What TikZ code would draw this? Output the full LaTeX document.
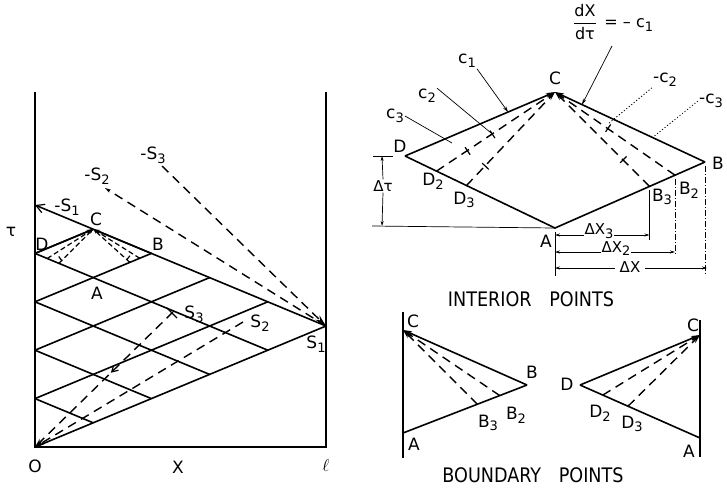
\documentclass[tikz,border=0pt]{standalone}
\usepackage{fontspec}
\setmainfont{DejaVu Sans}
\usetikzlibrary{arrows.meta,calc,decorations.markings}
\newcommand\lsub[1]{\raisebox{-0.4ex}{\fontsize{13}{14}\selectfont #1}}
\begin{document}
\begin{tikzpicture}[x=1pt,y=-1pt,
  main/.style={line width=1.6pt},
  dsh/.style={line width=1.4pt, dash pattern=on 9pt off 6pt},
  thinl/.style={line width=0.7pt},
  dotl/.style={line width=0.8pt, dash pattern=on 1.2pt off 2pt},
  dashdotl/.style={line width=0.7pt, dash pattern=on 6pt off 2pt on 1pt off 2pt},
  lbl/.style={font=\fontsize{17}{19}\selectfont, inner sep=1pt},
  dimlbl/.style={font=\fontsize{15}{17}\selectfont, inner sep=1pt, fill=white},
  title/.style={font=\fontsize{20}{22}\selectfont, inner sep=0pt, anchor=base},
  tipC/.style={-{Stealth[length=9pt,width=5pt]}},
  smalltip/.style={-{Stealth[length=6pt,width=3.5pt]}},
  dimtip/.style={{Stealth[length=5pt,width=3pt]}-{Stealth[length=5pt,width=3pt]}},
  tickl/.style={line width=1.2pt},
  midarrow/.style={postaction={decorate},decoration={markings,
     mark=at position 0.45 with {\arrow{Straight Barb[length=6pt,width=7pt,line width=1.2pt]}}}}
]
\useasboundingbox (0,0) rectangle (727,488);

% ================= LEFT DIAGRAM =================
\coordinate (LWt) at (35,92);
\coordinate (O) at (35,447);
\coordinate (RWt) at (326,92);
\coordinate (L) at (326,447);
\coordinate (S1) at (326,326);
\draw[main] (LWt) -- (O) -- (L) -- (RWt);

\foreach \i in {0,...,5} \coordinate (W\i) at (35,{205+48.4*\i});
\foreach \i in {1,...,4} {
  \coordinate (T\i) at ({35+58.2*\i},{205+24.2*\i});
  \coordinate (G\i) at ({35+58.2*(5-\i)},{447-24.2*(5-\i)});
}
\draw[main,{Straight Barb[length=8pt,width=9pt,line width=1.2pt]}-] (W0) -- (S1);
\draw[main] (O) -- (S1);
\foreach \i in {1,...,4} {
  \draw[main] (W\i) -- (T\i);
  \draw[main] (W\i) -- (G\i);
}
% small interior star at C
\coordinate (lC) at (T1);
\coordinate (lD) at (W1);
\coordinate (lA) at (93.2,277.6);
\coordinate (lB) at (T2);
\draw[main,-{Stealth[length=7pt,width=4pt]}] (lD) -- (lC);
\draw[main,-{Stealth[length=7pt,width=4pt]}] (lB) -- (lC);
\coordinate (lD2) at ($(lD)!0.21!(lA)$);
\coordinate (lD3) at ($(lD)!0.41!(lA)$);
\coordinate (lB3) at ($(lA)!0.63!(lB)$);
\coordinate (lB2) at ($(lA)!0.80!(lB)$);
\foreach \p in {lD2,lD3,lB3,lB2}
  \draw[line width=1.2pt, dash pattern=on 5pt off 3pt,-{Stealth[length=5pt,width=3pt]}] (\p) -- (lC);
\draw[tickl] ($(lD3)!4pt!(lC)$) -- ++(-3,-4);
\draw[tickl] ($(lB3)!4pt!(lC)$) -- ++(3,-4);

% characteristic directions
\coordinate (mS2) at (105,188);
\coordinate (mS3) at (162,166);
\draw[dsh,smalltip] (S1) -- (mS2);
\draw[dsh,-{Stealth[length=12pt,width=6pt]}] (mS3) -- (S1);
\coordinate (pS3) at (173,312);
\coordinate (pS2) at (243,322);
\draw[dsh,tipC,midarrow] (pS3) -- (O);
\draw[dsh,tipC] (pS2) -- (O);
\draw[tickl] ($(pS3)+(-6,-4)$) -- ($(pS3)+(4,6)$);

% labels left
\node[lbl] (ltau) at (11,232) {τ};
\node[lbl] (lO) at (35,466) {O};
\node[lbl] (lX) at (178,467) {X};
\node[lbl] (lell) at (326,465) {$\ell$};
\node[lbl] (lmS1) at (67,207) {-S\lsub{1}};
\node[lbl] (lmS2) at (97,176) {-S\lsub{2}};
\node[lbl] (lmS3) at (153,155) {-S\lsub{3}};
\node[lbl] (lCl) at (96,219) {C};
\node[lbl] (lDl) at (42,244) {D};
\node[lbl] (lBl) at (158,244) {B};
\node[lbl] (lAl) at (97,293) {A};
\node[lbl] (lS3) at (194,314) {S\lsub{3}};
\node[lbl] (lS2) at (260,323) {S\lsub{2}};
\node[lbl] (lS1) at (316,344) {S\lsub{1}};

% ================= INTERIOR POINTS =================
\coordinate (D) at (405,156);
\coordinate (C) at (555,92);
\coordinate (B) at (705,162);
\coordinate (A) at (555,228);
\coordinate (D2) at ($(D)!0.21!(A)$);
\coordinate (D3) at ($(D)!0.41!(A)$);
\coordinate (B3) at ($(A)!0.63!(B)$);
\coordinate (B2) at ($(A)!0.80!(B)$);
\draw[main] (D) -- (A) -- (B);
\draw[main,tipC] (D) -- (C);
\draw[main,tipC] (B) -- (C);
\foreach \p in {D2,D3,B3,B2} \draw[dsh,tipC] (\p) -- (C);
% ticks on dashed lines
\foreach \p/\t in {D2/0.53,D2/0.74,D3/0.79,B3/0.72,B2/0.44}
  \draw[tickl] ($(C)!\t!(\p)$) -- ($($(C)!\t!(\p)$)!5pt!90:(\p)$)
               ($($(C)!\t!(\p)$)!4pt!-90:(\p)$) -- ($($(C)!\t!(\p)$)!4pt!90:(\p)$);

\node[lbl] (Cl) at (555,78) {C};
\node[lbl] (Dl) at (400,146) {D};
\node[lbl] (Bl) at (718,163) {B};
\node[lbl] (Al) at (546,241) {A};
\node[lbl] (D2l) at (433,181) {D\lsub{2}};
\node[lbl] (D3l) at (464,200) {D\lsub{3}};
\node[lbl] (B3l) at (662,197) {B\lsub{3}};
\node[lbl] (B2l) at (689,190) {B\lsub{2}};

% leaders
\node[lbl] (c1) at (467,61) {c\lsub{1}};
\node[lbl] (c2) at (427,96) {c\lsub{2}};
\node[lbl] (c3) at (395,116) {c\lsub{3}};
\coordinate (c1e) at ($(D)!0.687!(C)$);
\coordinate (c2e) at ($(C)!0.53!(D2)$);
\coordinate (c3e) at (452,143);
\draw[thinl,smalltip] (c1.south east) -- (c1e);
\draw[thinl] (c2.north east) -- (c2e);
\draw[thinl] (c3.east) -- (c3e);

\node[lbl,anchor=west,font=\fontsize{16}{18}\selectfont] (dxdt) at (572,22) {$\displaystyle{\hbox{dX}\over\hbox{dτ}}$\, = -- c\lsub{1}};
\coordinate (c1me) at ($(C)!0.18!(B)$);
\coordinate (c1ms) at (612,46);
\draw[thinl,smalltip] (c1ms) -- (c1me);
\node[lbl] (mc2) at (665,80) {-c\lsub{2}};
\node[lbl] (mc3) at (711,101) {-c\lsub{3}};
\coordinate (mc2e) at (608,124);
\coordinate (mc3e) at ($(C)!0.65!(B)$);
\draw[dotl] (mc2.south west) -- (mc2e);
\draw[dotl] (mc3.west) -- (mc3e);

% delta tau
\coordinate (dtT) at (382,156);
\coordinate (dtB) at (382,226);
\draw[thinl] (373,156) -- (393,156);
\draw[thinl] (372,226) -- (A);
\node[dimlbl] (dtau) at (383,186) {Δτ};
\draw[thinl,-{Stealth[length=5pt,width=3pt]}] (dtau.north) -- (dtT);
\draw[thinl,-{Stealth[length=5pt,width=3pt]}] (dtau.south) -- (dtB);

% delta X dimensions
\coordinate (Ab) at (555,276);
\draw[thinl] ($(A)+(0,4)$) -- (Ab);
\draw[thinl] ($(B3)+(0,4)$) -- ($(B3|-A)+(0,12)$);
\draw[dashdotl] ($(B2)+(0,4)$) -- ($(B2|-A)+(0,28)$);
\draw[dashdotl] ($(B)+(0,4)$) -- ($(B|-A)+(0,46)$);
\coordinate (x3a) at (555,235); \coordinate (x3b) at ($(B3|-x3a)$);
\coordinate (x2a) at (555,252); \coordinate (x2b) at ($(B2|-x2a)$);
\coordinate (x1a) at (555,268); \coordinate (x1b) at ($(B|-x1a)+(2,0)$);
\draw[thinl,dimtip] (x3a) -- (x3b);
\draw[thinl,dimtip] (x2a) -- (x2b);
\draw[thinl,dimtip] (x1a) -- (x1b);
\node[dimlbl] (dX3) at (599,231) {ΔX\lsub{3}};
\node[dimlbl] (dX2) at (616,248.5) {ΔX\lsub{2}};
\node[dimlbl,inner xsep=5pt] (dX) at (630,267) {ΔX};

\node[title] (interior) at (531,306) {\scalebox{0.88}[1]{INTERIOR\quad POINTS}};

% ================= BOUNDARY POINTS =================
\coordinate (bLt) at (403,312);
\coordinate (bLb) at (403,458);
\coordinate (bC) at (403,330);
\coordinate (bB) at (527,385);
\coordinate (bA) at (403,433);
\coordinate (bB3) at ($(bA)!0.60!(bB)$);
\coordinate (bB2) at ($(bA)!0.78!(bB)$);
\draw[main] (bLt) -- (bLb);
\draw[main] (bA) -- (bB);
\draw[main,tipC] (bB) -- (bC);
\foreach \p in {bB3,bB2} \draw[dsh,tipC] (\p) -- (bC);
\node[lbl] (bCl) at (413,321) {C};
\node[lbl] (bBl) at (532,372) {B};
\node[lbl] (bAl) at (414,444) {A};
\node[lbl] (bB3l) at (488,423) {B\lsub{3}};
\node[lbl] (bB2l) at (516,415) {B\lsub{2}};

\coordinate (rLt) at (700,320);
\coordinate (rLb) at (700,457);
\coordinate (rC) at (700,335);
\coordinate (rD) at (580,385);
\coordinate (rA) at (700,438);
\coordinate (rD2) at ($(rD)!0.19!(rA)$);
\coordinate (rD3) at ($(rD)!0.40!(rA)$);
\draw[main] (rLt) -- (rLb);
\draw[main] (rD) -- (rA);
\draw[main,tipC] (rD) -- (rC);
\foreach \p in {rD2,rD3} \draw[dsh,tipC] (\p) -- (rC);
\node[lbl] (rCl) at (693,325) {C};
\node[lbl] (rDl) at (567,384) {D};
\node[lbl] (rAl) at (689,451) {A};
\node[lbl] (rD2l) at (600,413) {D\lsub{2}};
\node[lbl] (rD3l) at (632,424) {D\lsub{3}};

\node[title] (boundary) at (533,482) {\scalebox{0.88}[1]{BOUNDARY\quad POINTS}};
\end{tikzpicture}
\end{document}
